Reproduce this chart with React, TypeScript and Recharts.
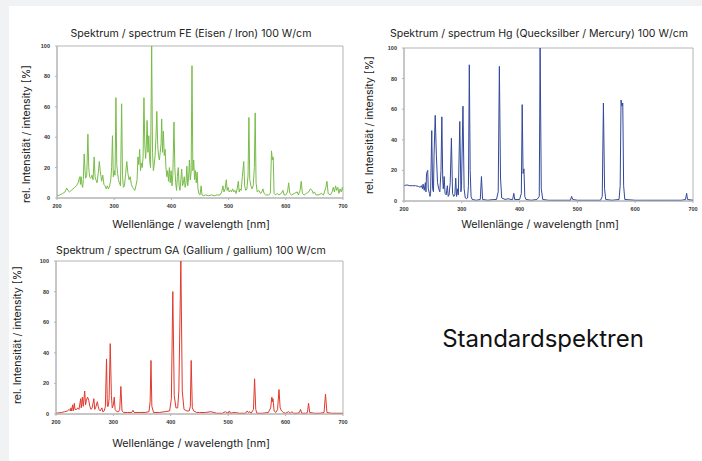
import React from 'react';
import { LineChart, Line, XAxis, YAxis, ReferenceArea } from 'recharts';

const X_TICKS = [200, 300, 400, 500, 600, 700];
const Y_TICKS = [0, 20, 40, 60, 80, 100];

const TITLE_FE = 'Spektrum / spectrum FE (Eisen / Iron) 100 W/cm';
const TITLE_HG = 'Spektrum / spectrum Hg (Quecksilber / Mercury) 100 W/cm';
const TITLE_GA = 'Spektrum / spectrum GA (Gallium / gallium) 100 W/cm';
const X_LABEL = 'Wellenlänge / wavelength [nm]';
const Y_LABEL = 'rel. Intensität / intensity [%]';
const SIDE_TEXT = 'Standardspektren';

// [wavelength nm, relative intensity %]
const FE_SPECTRUM: [number, number][] = [
  [200, 1.5], [205, 2], [210, 3], [214, 4], [217, 6.5], [219, 5], [222, 4], [225, 5], [228, 6], [231, 7],
  [234, 8], [237, 10], [239, 13], [240, 14], [241, 9], [242, 14], [243, 11], [244, 8], [245, 7], [246, 12],
  [247.5, 29], [249, 18], [250, 13], [252, 15], [254, 42], [255.5, 20], [257, 14], [259, 13], [261, 15], [263, 12],
  [265, 27], [266.5, 14], [268, 12], [270, 10], [272, 16], [274, 24], [275.5, 18], [277, 14], [278, 11], [280, 15],
  [282, 9], [284, 8], [286, 6], [288, 8], [290, 6], [292, 8], [294, 12], [295.5, 20], [297, 41], [298.5, 14],
  [300, 18], [301.5, 15], [303, 66], [304.5, 22], [306, 16], [307.5, 12], [309, 10], [311, 8], [313, 62], [314.5, 15],
  [316, 7], [318, 8], [320, 16], [322, 24], [324, 16], [326, 12], [328, 14], [330, 9], [332, 7], [334, 6],
  [336, 5], [338, 8], [340, 12], [341.5, 27], [343, 22], [344.5, 32], [346, 18], [347.5, 23], [349, 20], [350.5, 27],
  [352, 66], [353.5, 35], [355, 26], [356.5, 38], [357.5, 51], [359, 30], [360.5, 41], [362, 25], [363.5, 20], [365.5, 100],
  [367, 30], [368.5, 18], [370, 22], [371.5, 28], [373, 40], [374.5, 57], [376, 35], [377.5, 28], [379, 25], [380.5, 30],
  [382, 36], [383, 52], [384.5, 30], [386, 44], [387.5, 28], [389, 32], [390.5, 20], [392, 14], [393.5, 18], [395, 11],
  [396.5, 20], [398, 10], [399.5, 18], [401, 8], [402.5, 15], [404.5, 50], [406, 20], [407.5, 10], [409, 5], [410.5, 14],
  [412, 20], [413.5, 8], [415, 5], [416.5, 12], [418, 19], [419.5, 8], [421, 10], [422.5, 14], [424, 7], [425.5, 10],
  [427, 21], [428.5, 8], [430, 13], [431.5, 25], [433, 12], [434.5, 17], [436, 87], [437.5, 18], [439, 25], [440.5, 12],
  [442, 18], [443.5, 10], [445, 17], [446.5, 6], [448, 3], [450, 2], [452, 8], [453.5, 2], [456, 1.5], [460, 2],
  [465, 1.5], [470, 2], [475, 1.5], [480, 2], [485, 2], [488, 4], [490, 8], [492, 4], [494, 6], [496, 12],
  [497.5, 5], [499, 7], [501, 4], [503, 5], [505, 4], [507, 6], [509, 4], [511, 5], [513, 3], [515, 6],
  [517, 11], [518.5, 4], [520, 6], [522, 5], [524, 14], [526.5, 24], [528, 8], [530, 5], [532, 6], [534, 15],
  [535.5, 53], [537, 12], [539, 8], [541, 6], [543, 8], [545, 20], [546.5, 56], [548, 10], [550, 4], [553, 5],
  [556, 3], [558, 4], [560, 6], [562, 3], [565, 2], [570, 2], [573, 3], [575, 31], [576.5, 25], [578, 27],
  [579.5, 3], [582, 2], [585, 3], [588, 2], [592, 3], [595, 5], [597, 2], [600, 2], [603, 4], [605, 10],
  [607, 3], [610, 2], [615, 3], [620, 4], [622, 2], [625, 5], [627, 11], [629, 3], [632, 2], [636, 3],
  [640, 4], [643, 6], [646, 5], [648, 3], [650, 4], [653, 2], [658, 2], [662, 3], [666, 2], [670, 7],
  [672, 11], [674, 3], [678, 2], [681, 4], [683, 7], [685, 4], [687, 8], [689, 5], [691, 7], [693, 3],
  [695, 6], [697, 4], [699, 7], [700, 5],
];

const HG_SPECTRUM: [number, number][] = [
  [200, 10], [205, 10.5], [210, 10], [215, 10], [220, 10], [225, 9.5], [228, 9], [230, 10], [232, 8], [233, 11],
  [235, 7], [237, 12], [238, 6], [239, 18], [240, 19], [241, 20], [242, 8], [244, 5], [245, 3], [246, 5],
  [248, 46], [249.5, 8], [251, 6], [252, 30], [254, 56], [256, 30], [258, 12], [260, 8], [262, 6], [264, 20],
  [265.5, 55], [267, 14], [268, 8], [269.5, 16], [271, 5], [273, 4], [275, 10], [276.5, 3], [278, 4], [280, 12],
  [282, 41], [284, 5], [286, 3], [288, 4], [289.5, 15], [291, 3], [293, 8], [294, 4], [296.5, 52], [298.5, 6],
  [299.5, 10], [302, 62], [304, 8], [306, 2], [308, 1.5], [310, 2], [311.5, 10], [313, 89], [314.5, 20], [316, 3],
  [318, 1], [325, 0.5], [332, 1], [334, 16], [336, 1], [345, 0.5], [355, 1], [360, 1], [363, 6], [365, 88],
  [367, 15], [369, 2], [375, 1], [380, 1.5], [385, 1], [388, 1], [390, 5], [391.5, 1], [400, 1], [403, 5],
  [404.5, 63], [406, 18], [407.5, 21], [409, 3], [411, 1], [420, 0.5], [430, 1], [434, 3], [435.5, 100], [437.5, 8],
  [440, 1], [450, 0.5], [470, 0.5], [488, 0.5], [490, 3], [492, 1], [500, 0.5], [520, 0.5], [540, 0.5], [543, 3],
  [545, 64], [547, 8], [549, 1], [560, 0.5], [572, 1], [574, 10], [575.5, 66], [577, 62], [578.5, 64], [580, 10],
  [582, 1], [600, 0.5], [620, 0.5], [650, 0.5], [680, 0.5], [687, 1], [689, 5], [690.5, 1], [700, 0.5],
];

const GA_SPECTRUM: [number, number][] = [
  [200, 0.5], [210, 1], [215, 1.5], [220, 2], [223, 3], [225, 2], [226, 4], [227, 2], [229, 6], [230, 2],
  [232, 7], [233, 3], [236, 3], [238, 4], [240, 3], [243, 10], [244, 4], [246, 11], [247.5, 5], [250, 15],
  [251.5, 6], [253, 9], [255, 11], [257, 9], [259, 5], [261, 3], [263, 4], [266, 10], [267.5, 3], [269, 4],
  [272, 8], [273.5, 5], [275, 3], [277, 2], [280, 4], [281.5, 1.5], [284, 2], [286, 5], [288, 36], [289.5, 5],
  [291, 5], [292.5, 10], [294.5, 46], [296.5, 12], [298, 4], [300, 6], [301.5, 11], [303, 3], [306, 1.5], [309, 1.5],
  [311, 3], [313, 18], [315, 2], [318, 1], [325, 1], [332, 1], [334, 2.5], [336, 1], [345, 1], [355, 1],
  [362, 1.5], [364, 8], [365.5, 35], [367, 5], [370, 1], [380, 1], [390, 1.5], [398, 2], [401, 10], [403.5, 80],
  [406, 12], [409, 4], [412, 4], [414, 15], [417.5, 100], [420, 15], [423, 3], [428, 2], [432, 2], [434, 5],
  [435.5, 35], [437.5, 4], [440, 2], [445, 1], [450, 1], [460, 1], [470, 1.5], [480, 0.5], [490, 0.5], [495, 1.5],
  [500, 0.5], [502, 2], [504, 0.5], [510, 1], [520, 0.5], [530, 0.5], [533, 2], [535, 1], [538, 1.5], [540, 0.5],
  [544, 3], [546, 23], [548, 3], [550, 0.5], [560, 0.5], [570, 1], [574, 4], [576, 11], [577, 8], [578, 10],
  [580, 2], [583, 1], [586, 3], [588.5, 16], [590.5, 4], [593, 2], [596, 1], [600, 0.5], [605, 1.5], [608, 0.5],
  [611, 1.5], [614, 0.5], [620, 0.5], [624, 1], [626, 3], [628, 0.5], [635, 0.5], [638, 1], [640, 7], [642, 1],
  [650, 0.5], [660, 0.5], [667, 1], [669.5, 13], [672, 1], [680, 0.5], [690, 0.5], [700, 0.5],
];

const UI_FONT = 'Inter, "DejaVu Sans", sans-serif';

type Rect = { x: number; y: number; w: number; h: number };

function Spectrum({ data, color, plot }: { data: [number, number][]; color: string; plot: Rect }) {
  const rows = data.map(([nm, v]) => ({ nm, v }));
  const W = plot.w + 50;
  const H = plot.h + 30;
  const tickStyle = { fontSize: 5.5, fontWeight: 700, fill: '#333', fontFamily: '"Liberation Sans", Arial, sans-serif' };
  return (
    <div style={{ position: 'absolute', left: plot.x - 40, top: plot.y - 10, width: W, height: H }}>
      <LineChart width={W} height={H} data={rows} margin={{ top: 10, right: 10, left: 0, bottom: 0 }}>
        <XAxis
          dataKey="nm"
          type="number"
          domain={[200, 700]}
          ticks={X_TICKS}
          allowDataOverflow
          height={20}
          tick={tickStyle}
          tickSize={2}
          tickMargin={4}
          axisLine={{ stroke: '#b4b4b4' }}
          tickLine={{ stroke: '#b4b4b4' }}
        />
        <YAxis
          type="number"
          domain={[0, 100]}
          ticks={Y_TICKS}
          allowDataOverflow
          width={40}
          tick={tickStyle}
          tickSize={2}
          tickMargin={5}
          axisLine={{ stroke: '#b4b4b4' }}
          tickLine={{ stroke: '#b4b4b4' }}
        />
        <ReferenceArea x1={200} x2={700} y1={0} y2={100} fill="none" stroke="#b4b4b4" strokeWidth={1} />
        <Line dataKey="v" type="linear" stroke={color} strokeWidth={1} dot={false} isAnimationActive={false} />
      </LineChart>
    </div>
  );
}

function Text({ x, y, children, size, rotate, color = '#222' }: any) {
  return (
    <div
      style={{
        position: 'absolute',
        left: x,
        top: y,
        transform: `translate(-50%, -50%)${rotate ? ' rotate(-90deg)' : ''}`,
        whiteSpace: 'nowrap',
        fontFamily: UI_FONT,
        fontSize: size,
        color,
        lineHeight: 1,
      }}
    >
      {children}
    </div>
  );
}

export default function App() {
  return (
    <div style={{ position: 'absolute', left: 0, top: 0, width: 702, height: 461, background: '#f1f2f4', overflow: 'hidden' }}>
      <div style={{ position: 'absolute', left: 9, top: 6, right: 0, bottom: 0, background: '#ffffff' }} />

      <Text x={191} y={34} size={10.6}>{TITLE_FE}</Text>
      <Spectrum data={FE_SPECTRUM} color="#78bc48" plot={{ x: 57, y: 46, w: 286, h: 152 }} />
      <Text x={191} y={225} size={10.8}>{X_LABEL}</Text>
      <Text x={27} y={134} size={10.6} rotate>{Y_LABEL}</Text>

      <Text x={539} y={34} size={10.6}>{TITLE_HG}</Text>
      <Spectrum data={HG_SPECTRUM} color="#33489a" plot={{ x: 404, y: 48, w: 289, h: 153 }} />
      <Text x={540} y={225} size={10.8}>{X_LABEL}</Text>
      <Text x={370} y={125} size={10.6} rotate>{Y_LABEL}</Text>

      <Text x={191} y={251} size={10.6}>{TITLE_GA}</Text>
      <Spectrum data={GA_SPECTRUM} color="#e03a2e" plot={{ x: 56, y: 261, w: 287, h: 153 }} />
      <Text x={191} y={444} size={10.8}>{X_LABEL}</Text>
      <Text x={18} y={335} size={10.6} rotate>{Y_LABEL}</Text>

      <Text x={543} y={339} size={24} color="#111">{SIDE_TEXT}</Text>
    </div>
  );
}
